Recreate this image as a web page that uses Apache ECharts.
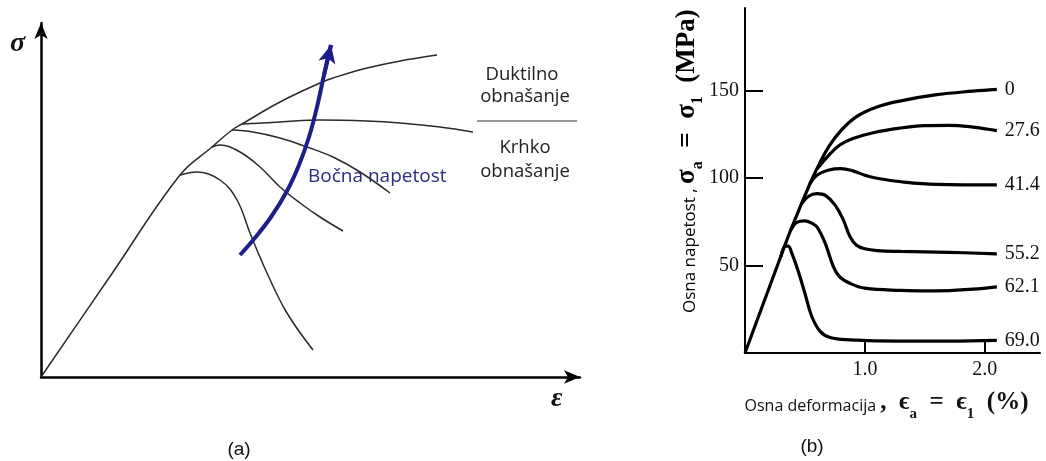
<!DOCTYPE html>
<html>
<head>
<meta charset="utf-8">
<title>Osna napetost - deformacija</title>
<script src="https://cdn.jsdelivr.net/npm/echarts@6/dist/echarts.min.js"></script>
<style>
html, body { margin: 0; padding: 0; background: #fff; }
#chart { width: 1046px; height: 461px; }
</style>
</head>
<body>
<div id="chart"></div>
<script>
// (a) schematic curves, arbitrary units (no scale on the axes)
const aEnvelope = [[0, 0], [7.0, 10.2], [13.9, 20.2], [17.1, 23.0], [19.1, 24.7], [20.1, 25.3], [23.9, 27.5],
  [27.9, 29.4], [29.2, 29.9], [32.6, 30.9], [35.9, 31.6], [39.6, 32.2]];
const aTransition = [[20.1, 25.3], [23.9, 25.5], [27.9, 25.7], [32.6, 25.6], [35.9, 25.4], [39.9, 25.0], [43.2, 24.5]];
const aBranch3 = [[19.1, 24.7], [21.2, 24.5], [23.9, 23.9], [26.6, 23.0], [29.2, 22.0], [31.9, 20.5], [34.9, 18.4]];
const aBranch4 = [[17.1, 23.0], [17.9, 23.2], [19.9, 22.5], [21.9, 21.0], [23.9, 19.0], [25.9, 17.4], [27.9, 16.0], [30.2, 14.6]];
const aBranch5 = [[13.9, 20.2], [15.6, 20.5], [17.9, 19.7], [19.6, 17.7], [20.9, 14.4], [22.6, 10.4], [24.6, 6.4], [27.2, 2.7]];
const aArrow = [[19.9, 12.2], [21.3, 13.8], [23.0, 16.0], [24.6, 18.6], [25.8, 21.2], [26.8, 24.0], [27.6, 27.0],
  [28.3, 30.2], [29.0, 33.2]];

// (b) axial stress (MPa) vs axial strain (%), one curve per lateral stress
const bNames = ['0', '27.6', '41.4', '55.2', '62.1', '69.0'];
const bCurve0 = [[0, 0], [0.2, 37], [0.33, 61], [0.38, 70], [0.44, 80], [0.5, 90], [0.56, 99.5], [0.62, 108],
  [0.7, 118], [0.8, 127], [0.93, 135], [1.1, 140.5], [1.3, 144], [1.6, 147.5], [1.9, 149.5], [2.1, 150.5]];
const bCurve276 = [[0.6, 105], [0.7, 113], [0.79, 118.8], [0.9, 122.5], [1.07, 125.8], [1.29, 128.4], [1.5, 129.8],
  [1.7, 130], [1.9, 129], [2.1, 127]];
const bCurve414 = [[0.54, 96.5], [0.6, 101.5], [0.7, 104.5], [0.8, 105.3], [0.9, 104], [1.0, 101.5], [1.1, 99.8],
  [1.3, 97.8], [1.6, 96.3], [2.1, 96]];
const bCurve552 = [[0.47, 85], [0.53, 89.5], [0.6, 91], [0.67, 90], [0.75, 84.6], [0.82, 76], [0.875, 66.5],
  [0.93, 61.5], [1.0, 59.5], [1.1, 58.5], [1.3, 58], [1.7, 57.5], [2.1, 56.6]];
const bCurve621 = [[0.38, 70], [0.43, 74.5], [0.5, 75.5], [0.56, 74], [0.6, 72], [0.667, 63], [0.736, 49.5],
  [0.79, 43.5], [0.875, 39.8], [1.0, 37], [1.3, 35.8], [1.6, 35.5], [1.9, 36.5], [2.1, 37.8]];
const bCurve690 = [[0.3, 55], [0.335, 61], [0.36, 61], [0.39, 57], [0.44, 47.5], [0.5, 34], [0.556, 21],
  [0.625, 12.5], [0.71, 8.8], [0.875, 7.5], [1.29, 6.8], [1.7, 6.8], [2.1, 7.2]];
const bYTicks = [50, 100, 150];
const bXTicks = [1, 2];

const chart = echarts.init(document.getElementById('chart'));

const ink = '#2a2a2a';
const navy = '#1e1e8a';
const serif = 'Liberation Serif';
const sans = 'Open Sans';

function schematic(data) {
  return {
    type: 'line', xAxisIndex: 0, yAxisIndex: 0, data: data, smooth: 0.4,
    showSymbol: false, silent: true,
    lineStyle: { color: ink, width: 1.5 }
  };
}

const bData = [bCurve0, bCurve276, bCurve414, bCurve552, bCurve621, bCurve690];
const bSeries = bData.map((data, i) => ({
  type: 'line', name: bNames[i], xAxisIndex: 1, yAxisIndex: 1, data: data, smooth: 0.4,
  showSymbol: false, silent: true,
  lineStyle: { color: '#000', width: 3.2 },
  endLabel: { show: true, formatter: '{a}', distance: 8, fontFamily: serif, fontSize: 20, color: '#111' }
}));

// rich styles for the math titles: subscripts sit at the bottom of the line box
function mathRich(sansSize, boldSize, subSize) {
  return {
    s: { fontFamily: sans, fontSize: sansSize, color: '#111', lineHeight: 32 },
    b: { fontFamily: serif, fontWeight: 'bold', fontSize: boldSize, color: '#111', lineHeight: 26, verticalAlign: 'top' },
    sub: { fontFamily: serif, fontWeight: 'bold', fontSize: subSize, color: '#111', lineHeight: 19, verticalAlign: 'bottom' }
  };
}

chart.setOption({
  animation: false,
  grid: [
    { left: 41, top: 23, width: 539, height: 354 },
    { left: 745, top: 8, width: 295, height: 345 }
  ],
  xAxis: [
    {
      type: 'value', gridIndex: 0, min: 0, max: 53.9,
      axisLine: { show: true, symbol: ['none', 'arrow'], symbolSize: [10, 16], lineStyle: { color: '#000', width: 2.5 } },
      axisTick: { show: false }, axisLabel: { show: false }, splitLine: { show: false }
    },
    {
      type: 'value', gridIndex: 1, min: 0, max: 2.46,
      axisLine: { show: true, lineStyle: { color: '#000', width: 2 } },
      axisTick: { show: true, inside: true, length: 14, customValues: bXTicks, lineStyle: { color: '#000', width: 2 } },
      axisLabel: {
        show: true, customValues: bXTicks, margin: 7, fontFamily: serif, fontSize: 20, color: '#111',
        formatter: (v) => v.toFixed(1)
      },
      splitLine: { show: false },
      name: '{s|Osna deformacija }{b|,  ϵ}{sub|a}{b|  =  ϵ}{sub|1}{b|  (%)}',
      nameLocation: 'middle', nameGap: 37,
      nameTextStyle: { rich: mathRich(16, 25, 15), padding: [0, 12, 0, 0] }
    }
  ],
  yAxis: [
    {
      type: 'value', gridIndex: 0, min: 0, max: 35.4,
      axisLine: { show: true, symbol: ['none', 'arrow'], symbolSize: [10, 16], lineStyle: { color: '#000', width: 2.5 } },
      axisTick: { show: false }, axisLabel: { show: false }, splitLine: { show: false }
    },
    {
      type: 'value', gridIndex: 1, min: 0, max: 197,
      axisLine: { show: true, lineStyle: { color: '#000', width: 2 } },
      axisTick: { show: true, inside: true, length: 18, customValues: bYTicks, lineStyle: { color: '#000', width: 2 } },
      axisLabel: { show: true, customValues: bYTicks, margin: 6, fontFamily: serif, fontSize: 20, color: '#111' },
      splitLine: { show: false }
    }
  ],
  series: [
    schematic(aEnvelope),
    schematic(aTransition),
    schematic(aBranch3),
    schematic(aBranch4),
    schematic(aBranch5),
    {
      type: 'line', xAxisIndex: 0, yAxisIndex: 0, data: aArrow, smooth: 0.4,
      showSymbol: false, silent: true,
      lineStyle: { color: navy, width: 4 },
      markLine: {
        silent: true, symbol: ['none', 'arrow'], symbolSize: [13, 18],
        label: { show: false },
        lineStyle: { color: navy, width: 4, type: 'solid' },
        itemStyle: { color: navy },
        data: [[{ coord: aArrow[aArrow.length - 2] }, { coord: aArrow[aArrow.length - 1] }]]
      }
    },
    ...bSeries
  ],
  graphic: [
    { type: 'text', left: 10, top: 30, style: { text: 'σ', font: 'italic bold 28px "Liberation Serif"', fill: '#111' } },
    { type: 'text', left: 551, top: 385, style: { text: 'ε', font: 'italic bold 28px "Liberation Serif"', fill: '#111' } },
    { type: 'text', x: 522, y: 75, style: { text: 'Duktilno', font: '18.5px "Open Sans"', fill: '#222', align: 'center', verticalAlign: 'middle' } },
    { type: 'text', x: 525, y: 97, style: { text: 'obnašanje', font: '18.5px "Open Sans"', fill: '#222', align: 'center', verticalAlign: 'middle' } },
    { type: 'line', shape: { x1: 477, y1: 121, x2: 577, y2: 121 }, style: { stroke: '#999', lineWidth: 2 } },
    { type: 'text', x: 525, y: 148, style: { text: 'Krhko', font: '18.5px "Open Sans"', fill: '#222', align: 'center', verticalAlign: 'middle' } },
    { type: 'text', x: 525, y: 172, style: { text: 'obnašanje', font: '18.5px "Open Sans"', fill: '#222', align: 'center', verticalAlign: 'middle' } },
    { type: 'text', x: 308, y: 177, style: { text: 'Bočna napetost', font: '19px "Open Sans"', fill: '#2b2b80', align: 'left', verticalAlign: 'middle' } },
    {
      type: 'text', x: 690, y: 313, rotation: Math.PI / 2,
      style: {
        text: '{s|Osna napetost , }{b|σ}{sub|a}{b|  =  σ}{sub|1}{b|  (MPa)}',
        align: 'left', verticalAlign: 'middle', rich: mathRich(17, 27, 16)
      }
    },
    { type: 'text', x: 239, y: 450, style: { text: '(a)', font: '19px "Liberation Sans"', fill: '#111', align: 'center', verticalAlign: 'middle' } },
    { type: 'text', x: 812, y: 447, style: { text: '(b)', font: '19px "Liberation Sans"', fill: '#111', align: 'center', verticalAlign: 'middle' } }
  ]
});
</script>
</body>
</html>
